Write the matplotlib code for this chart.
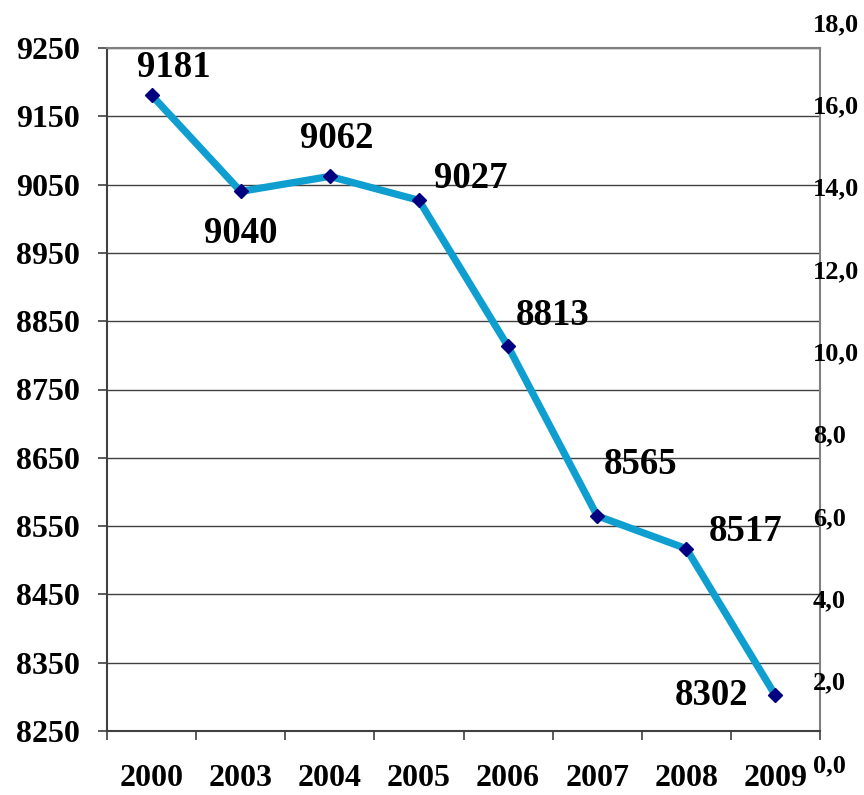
import matplotlib
matplotlib.use("Agg")
import matplotlib.pyplot as plt
from matplotlib.ticker import FixedLocator

years = ["2000", "2003", "2004", "2005", "2006", "2007", "2008", "2009"]
values = [9181, 9040, 9062, 9027, 8813, 8565, 8517, 8302]
left_ticks = [8250, 8350, 8450, 8550, 8650, 8750, 8850, 8950, 9050, 9150, 9250]
right_ticks = [0, 2, 4, 6, 8, 10, 12, 14, 16, 18]
right_labels = ["0,0", "2,0", "4,0", "6,0", "8,0", "10,0", "12,0", "14,0", "16,0", "18,0"]
# label offsets (points) relative to each marker
label_dx = [16, 0, 5, 37, 32, 31, 43, -46]
label_dy = [20, -30, 27, 16, 22, 37, 12, 0]

plt.rcParams['font.family'] = ['Liberation Serif', 'DejaVu Serif']
plt.rcParams['font.weight'] = 'bold'

W, H = 864, 795
fig = plt.figure(figsize=(W / 100, H / 100), dpi=100)
ax = fig.add_axes([107 / W, 1 - 731 / H, (820 - 107) / W, (731 - 48) / H])

x = list(range(len(years)))
ax.plot(x, values, color='#0E9FD0', lw=5.2, solid_capstyle='butt', zorder=3,
        marker='D', markersize=7.2, markerfacecolor='#000080', markeredgecolor='#000080')

for xi, v, dx, dy in zip(x, values, label_dx, label_dy):
    ax.annotate(str(v), (xi, v), xytext=(dx, dy), textcoords='offset points',
                ha='center', va='center', fontsize=26.5, fontweight='bold', zorder=4)

ax.set_xlim(-0.5, len(years) - 0.5)
ax.set_ylim(8250, 9250)
ax.set_yticks(left_ticks)
ax.set_yticklabels([str(t) for t in left_ticks])
ax.set_xticks(x)
ax.set_xticklabels(years)
ax.xaxis.set_minor_locator(FixedLocator([i - 0.5 for i in range(len(years) + 1)]))

ax.tick_params(axis='y', which='major', length=6.5, width=1.2, color='#404040',
               labelsize=23, pad=13)
ax.tick_params(axis='x', which='major', length=0, labelsize=23, pad=24)
ax.tick_params(axis='x', which='minor', length=6.5, width=1.2, color='#404040')
for lab in ax.get_xticklabels() + ax.get_yticklabels():
    lab.set_fontweight('bold')

ax.grid(axis='y', color='#404040', lw=1.0)
ax.set_axisbelow(True)
for s in ['left', 'bottom']:
    ax.spines[s].set_color('#404040')
    ax.spines[s].set_linewidth(1.5)
for s in ['top', 'right']:
    ax.spines[s].set_color('#808080')
    ax.spines[s].set_linewidth(1.5)

# right-hand secondary scale (labels only)
ax3 = fig.add_axes([809 / W, 1 - 763 / H, 0.001, (763 - 22) / H])
ax3.set_ylim(0, 18)
ax3.set_xticks([])
ax3.yaxis.tick_right()
ax3.set_yticks(right_ticks)
ax3.set_yticklabels(right_labels)
ax3.tick_params(axis='y', length=0, pad=2, labelsize=19)
for lab in ax3.get_yticklabels():
    lab.set_fontweight('bold')
for s in ax3.spines.values():
    s.set_visible(False)
ax3.patch.set_visible(False)

fig.savefig("out.png", dpi=100)
